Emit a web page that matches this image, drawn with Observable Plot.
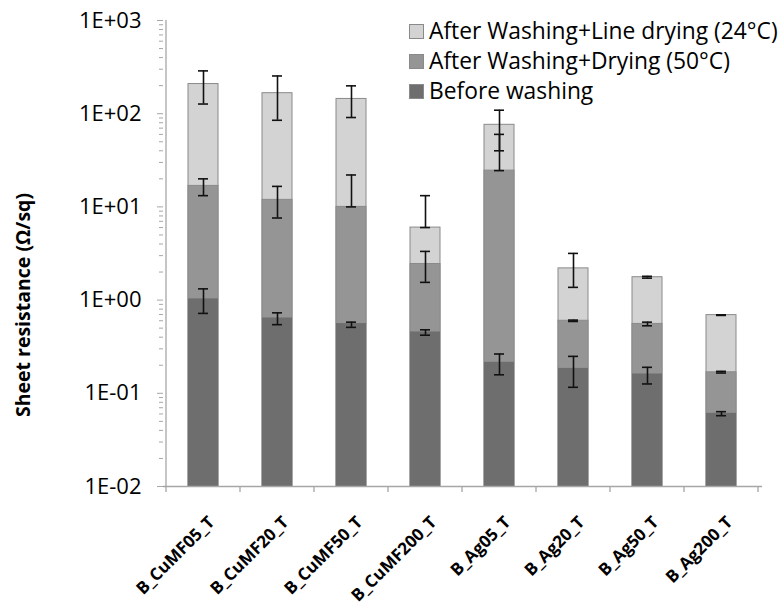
<!DOCTYPE html>
<html><head><meta charset="utf-8">
<script src="https://cdn.jsdelivr.net/npm/d3@7"></script>
<script src="https://cdn.jsdelivr.net/npm/@observablehq/plot@0.6"></script>
<style>
body{margin:0;background:#fff;}
#wrap{position:relative;width:782px;height:613px;font-family:"Open Sans",sans-serif;color:#000;overflow:hidden;}
#legend{position:absolute;left:409px;top:16px;font-size:22.8px;line-height:30px;}
#legend .row{display:flex;align-items:center;white-space:nowrap;}
#legend .sw{width:13px;height:13px;border:1px solid #8a8a8a;margin-right:5px;}
#ytitle{position:absolute;left:22px;top:305px;transform:translate(-50%,-50%) rotate(-90deg);font-size:19.5px;font-weight:bold;white-space:nowrap;}
</style></head><body>
<div id="wrap"><div id="chart"></div><div id="ytitle">Sheet resistance (Ω/sq)</div><div id="legend"></div></div>
<script>
const categories = ["B_CuMF05_T","B_CuMF20_T","B_CuMF50_T","B_CuMF200_T","B_Ag05_T","B_Ag20_T","B_Ag50_T","B_Ag200_T"];
const seriesNames = ["After Washing+Line drying (24°C)","After Washing+Drying (50°C)","Before washing"];
const seriesColors = ["#d3d3d3","#959595","#6e6e6e"];
const lineDry   = [208, 166, 144, 6.0, 76, 2.19, 1.76, 0.69];
const lineDryLo = [127, 85, 91, 6.0, 40, 1.37, 1.72, 0.685];
const lineDryHi = [288, 254, 199, 13.2, 109, 3.17, 1.80, 0.695];
const hotDry    = [16.8, 11.9, 10.0, 2.44, 24.5, 0.60, 0.555, 0.168];
const hotDryLo  = [13.2, 7.6, 10.0, 1.55, 24.5, 0.59, 0.53, 0.165];
const hotDryHi  = [20, 16.6, 22, 3.33, 60, 0.61, 0.58, 0.172];
const before    = [1.03, 0.643, 0.56, 0.455, 0.215, 0.185, 0.161, 0.061];
const beforeLo  = [0.72, 0.545, 0.51, 0.42, 0.158, 0.116, 0.126, 0.0575];
const beforeHi  = [1.32, 0.73, 0.58, 0.48, 0.264, 0.249, 0.19, 0.0635];
const majorTicks = [0.01, 0.1, 1, 10, 100, 1000];

const seriesData = [[lineDry,lineDryLo,lineDryHi],[hotDry,hotDryLo,hotDryHi],[before,beforeLo,beforeHi]];
const rows = [];
seriesData.forEach(([v,lo,hi],s)=>categories.forEach((c,i)=>rows.push({cat:c,series:seriesNames[s],s,value:v[i],lo:lo[i],hi:hi[i]})));
const minorTicks = [];
for (let e=-2;e<3;e++) for (let m=2;m<10;m++) minorTicks.push(m*Math.pow(10,e));
const fmt = d => { const e = Math.round(Math.log10(d)); return "1E" + (e<0?"-":"+") + String(Math.abs(e)).padStart(2,"0"); };

const barMarks = [];
const errMarks = [];
[0,1,2].forEach(s=>{
  const data = rows.filter(r=>r.s===s);
  barMarks.push(Plot.barY(data,{x:"cat",y1:0.01,y2:"value",fill:seriesColors[s],stroke:s<2?"#8a8a8a":"none",strokeWidth:1}));
  errMarks.push(Plot.ruleX(data,{x:"cat",y1:"lo",y2:"hi",stroke:"#111",strokeWidth:1.6}));
  errMarks.push(Plot.tickY(data,{x:"cat",y:"lo",stroke:"#111",strokeWidth:1.6,insetLeft:10,insetRight:10}));
  errMarks.push(Plot.tickY(data,{x:"cat",y:"hi",stroke:"#111",strokeWidth:1.6,insetLeft:10,insetRight:10}));
});

const chart = Plot.plot({
  width:782, height:613, marginTop:20, marginBottom:127, marginLeft:163, marginRight:20,
  style:{fontFamily:"'Open Sans', sans-serif", background:"white", color:"#000"},
  x:{domain:categories, paddingInner:0.59, paddingOuter:0.295},
  y:{type:"log", domain:[0.01,1000]},
  marks:[
    Plot.axisY({ticks:minorTicks, tickSize:4, tickFormat:()=> "", stroke:"#a6a6a6", label:null}),
    Plot.axisY({ticks:majorTicks, tickSize:6, tickPadding:16, tickFormat:fmt, fontSize:22, stroke:"#a6a6a6", fill:"#000", label:null}),
    Plot.axisX({tickSize:0, tickRotate:-45, tickPadding:8, fontSize:17, fontWeight:"bold", fill:"#000", label:null, dx:8, dy:25}),
    ...barMarks,
    ...errMarks,
    Plot.ruleY([0.01],{stroke:"#a6a6a6",strokeWidth:1.3})
  ]
});
document.getElementById("chart").appendChild(chart);

// left axis line and category boundary ticks, through Plot's scales
const xs = chart.scale("x"), ys = chart.scale("y");
const svg = d3.select(chart);
const yTop = ys.apply(1000), yBot = ys.apply(0.01);
const step = xs.step, bw = xs.bandwidth;
const x0 = xs.apply(categories[0]) - (step - bw)/2;
const g = svg.append("g").attr("stroke","#a6a6a6").attr("stroke-width",1.3);
g.append("line").attr("x1",x0).attr("x2",x0).attr("y1",yTop).attr("y2",yBot);
for (let i=0;i<=categories.length;i++){
  const xb = x0 + i*step;
  g.append("line").attr("x1",xb).attr("x2",xb).attr("y1",yBot).attr("y2",yBot+6);
}

const legend = d3.select("#legend");
seriesNames.forEach((n,i)=>{
  const r = legend.append("div").attr("class","row");
  r.append("div").attr("class","sw").style("background",seriesColors[i]);
  r.append("span").text(n);
});
</script>
</body></html>
